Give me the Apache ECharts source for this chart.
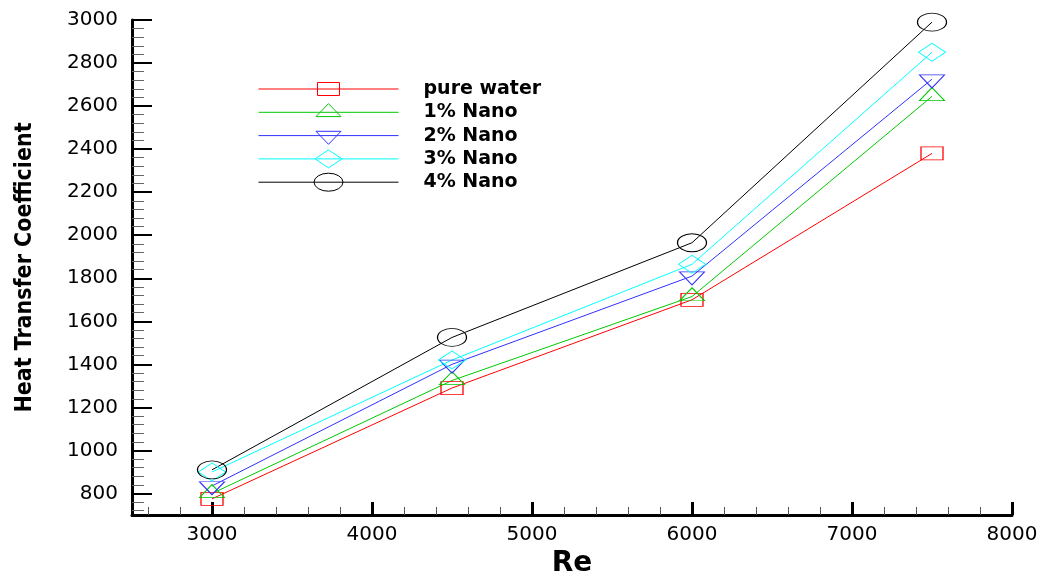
<!DOCTYPE html>
<html>
<head>
<meta charset="utf-8">
<script src="https://cdn.jsdelivr.net/npm/echarts@6/dist/echarts.min.js"></script>
<style>
html,body{margin:0;padding:0;background:#fff;}
#main{width:1052px;height:576px;}
</style>
</head>
<body>
<div id="main"></div>
<script>
var reVals = [3000, 4500, 6000, 7500];
var pureWater = [775, 1290, 1700, 2380];
var nano1 = [800, 1325, 1715, 2645];
var nano2 = [835, 1400, 1810, 2725];
var nano3 = [900, 1420, 1865, 2850];
var nano4 = [910, 1525, 1965, 2990];

var xLabels = [3000, 4000, 5000, 6000, 7000, 8000];
var yLabels = [800, 1000, 1200, 1400, 1600, 1800, 2000, 2200, 2400, 2600, 2800, 3000];

// minor ticks
var xMinor = [];
for (var v = 2600; v < 8000; v += 200) { if (v % 1000 != 0) xMinor.push(v); }
var yMinor = [];
for (var w = 720; w < 3000; w += 40) { if ((w - 800) % 200 != 0) yMinor.push(w); }

var extend = function(){
	var o = {};
	for (var i = 0; i < arguments.length; i++) {
		for (var k in arguments[i]) o[k] = arguments[i][k];
	}
	return o;
};

var box = ' M0 0 M160 18';
var line = 'M0 9 L140 9 ';
var icons = {
	rect: 'path://' + line + 'M59 2.5 L81 2.5 L81 15.5 L59 15.5 Z' + box,
	up: 'path://' + line + 'M57.5 13.3 L70 0.3 L82.5 13.3 Z' + box,
	down: 'path://' + line + 'M57.5 4.7 L82.5 4.7 L70 17.7 Z' + box,
	diamond: 'path://' + line + 'M56.5 9 L70 0 L83.5 9 L70 18 Z' + box,
	ellipse: 'path://' + line + 'M55.5 9 A14.5 9 0 1 0 84.5 9 A14.5 9 0 1 0 55.5 9 Z' + box
};

var makeSeries = function(name, vals, color, symbol, size, rotate, offset){
	var data = [];
	for (var i = 0; i < reVals.length; i++) {
		data.push([reVals[i], vals[i]]);
	}
	return {
		name: name,
		type: 'line',
		data: data,
		symbol: symbol,
		symbolSize: size,
		symbolRotate: rotate || 0,
		symbolOffset: offset || [0, 0],
		showAllSymbol: true,
		lineStyle: {color: color, width: 1},
		itemStyle: {color: 'rgba(0,0,0,0)', borderColor: color, borderWidth: 1},
		emphasis: {disabled: true},
		z: 3
	};
};

var plain = function(val){ return String(val); };
var tickFont = {fontFamily: 'DejaVu Sans', fontSize: 20, color: '#000', formatter: plain};

var option = {
	animation: false,
	grid: {left: 132, right: 40, top: 20, bottom: 61, containLabel: false, outerBoundsMode: 'none'},
	legend: {
		orient: 'vertical',
		left: 253,
		top: 74.5,
		itemWidth: 160,
		itemHeight: 18,
		itemGap: 4.3,
		itemStyle: {color: 'rgba(0,0,0,0)', borderWidth: 1},
		textStyle: {fontFamily: 'DejaVu Sans', fontWeight: 'bold', fontSize: 19, lineHeight: 18, color: '#000'},
		data: [
			{name: 'pure water', icon: icons.rect},
			{name: '1% Nano', icon: icons.up},
			{name: '2% Nano', icon: icons.down},
			{name: '3% Nano', icon: icons.diamond},
			{name: '4% Nano', icon: icons.ellipse}
		]
	},
	xAxis: [{
		type: 'value', min: 2500, max: 8000, position: 'bottom',
		name: 'Re', nameLocation: 'middle', nameGap: 34,
		nameTextStyle: {fontFamily: 'DejaVu Sans', fontWeight: 'bold', fontSize: 28, color: '#000'},
		axisLine: {lineStyle: {color: '#000', width: 3}},
		axisTick: {inside: true, length: 13, lineStyle: {color: '#000', width: 3}, customValues: xLabels},
		axisLabel: extend(tickFont, {margin: 10, customValues: xLabels}),
		splitLine: {show: false}
	}, {
		type: 'value', min: 2500, max: 8000, position: 'bottom', offset: 0,
		axisLine: {show: false},
		axisTick: {inside: true, length: 8, lineStyle: {color: '#555', width: 1}, customValues: xMinor},
		axisLabel: {show: false},
		splitLine: {show: false}
	}],
	yAxis: [{
		type: 'value', min: 700, max: 3000, position: 'left',
		name: 'Heat Transfer Coefficient', nameLocation: 'middle', nameGap: 95, nameRotate: 90,
		nameTextStyle: {fontFamily: "'DejaVu Sans Condensed', 'Liberation Sans', sans-serif", fontWeight: 'bold', fontSize: 23, color: '#000'},
		axisLine: {show: true, lineStyle: {color: '#000', width: 3}},
		axisTick: {show: true, inside: true, length: 20, lineStyle: {color: '#000', width: 2}, customValues: yLabels},
		axisLabel: extend(tickFont, {margin: 14, customValues: yLabels}),
		splitLine: {show: false}
	}, {
		type: 'value', min: 700, max: 3000, position: 'left', offset: 0,
		axisLine: {show: false},
		axisTick: {show: true, inside: true, length: 12, lineStyle: {color: '#666', width: 1}, customValues: yMinor},
		axisLabel: {show: false},
		splitLine: {show: false}
	}],
	series: [
		makeSeries('pure water', pureWater, '#ff0000', 'rect', [22, 13]),
		makeSeries('1% Nano', nano1, '#00c800', 'triangle', [25, 13], 0, [0, -2.3]),
		makeSeries('2% Nano', nano2, '#3030ff', 'triangle', [25, 13], 180, [0, 2.3]),
		makeSeries('3% Nano', nano3, '#00ffff', 'diamond', [27, 18]),
		makeSeries('4% Nano', nano4, '#000000', 'circle', [29, 18])
	]
};

var chart = echarts.init(document.getElementById('main'));
chart.setOption(option);
</script>
</body>
</html>
